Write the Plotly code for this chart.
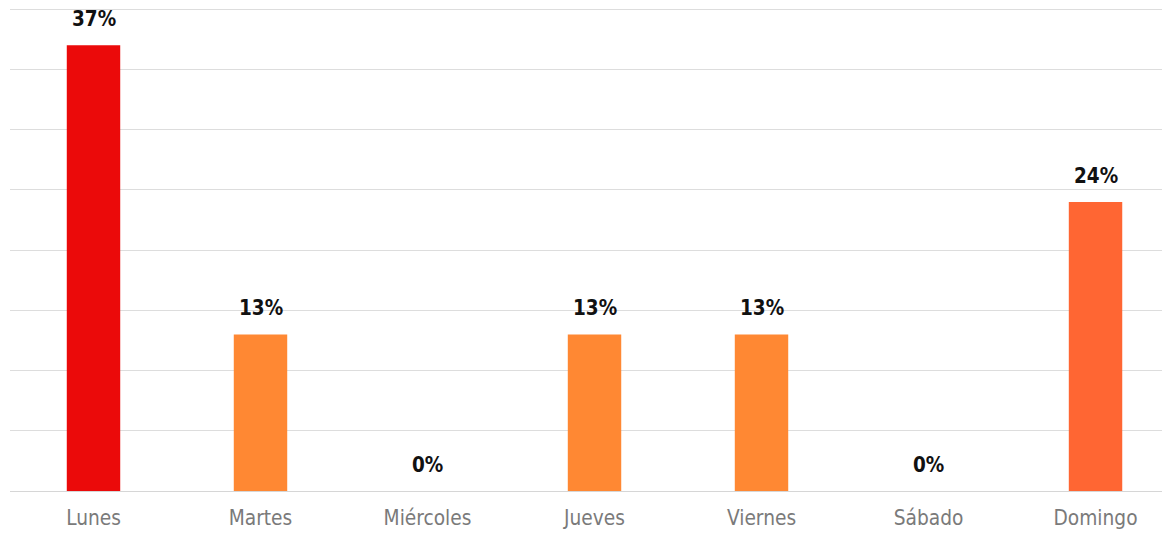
import plotly.graph_objects as go

days = ["Lunes", "Martes", "Miércoles", "Jueves", "Viernes", "Sábado", "Domingo"]
values = [37, 13, 0, 13, 13, 0, 24]
labels = ["37%", "13%", "0%", "13%", "13%", "0%", "24%"]
colors = ["#EB0A0A", "#FF8833", "#FF8833", "#FF8833", "#FF8833", "#FF8833", "#FF6633"]

fig = go.Figure()
fig.add_trace(go.Bar(
    x=days, y=values, marker=dict(color=colors, line=dict(width=0)),
    width=0.32, hoverinfo="skip",
))
for d, v, t in zip(days, values, labels):
    fig.add_annotation(
        x=d, y=v, text=t, showarrow=False, yanchor="bottom", yshift=12,
        font=dict(family="DejaVu Sans Condensed, sans-serif",
                  size=20.5, color="#111111", weight="bold"),
    )

fig.update_layout(
    width=1162, height=525,
    margin=dict(l=2, r=0, t=0, b=42, autoexpand=False),
    paper_bgcolor="white", plot_bgcolor="white",
    showlegend=False,
    xaxis=dict(
        range=[-0.5, 6.446], showgrid=False, showline=False, zeroline=False,
        ticks="", ticklabelstandoff=12, automargin=False,
        tickfont=dict(family="DejaVu Sans Condensed, sans-serif",
                      size=20.7, color="#7A7A7A"),
    ),
    yaxis=dict(
        range=[0, 40.1], tickvals=[5, 10, 15, 20, 25, 30, 35, 40], showticklabels=False,
        showgrid=True, automargin=False,
        gridcolor="#DDDDDD", gridwidth=1, zeroline=True, zerolinecolor="#D6D6D6",
        zerolinewidth=1, showline=False,
    ),
)

fig.write_html("out.html")
